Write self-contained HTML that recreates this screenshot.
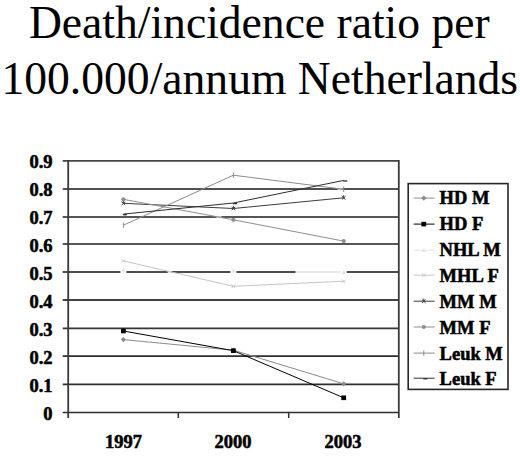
<!DOCTYPE html>
<html><head><meta charset="utf-8"><style>
html,body{margin:0;padding:0;background:#fff;width:520px;height:460px;overflow:hidden}
svg{display:block}
text{font-family:"Liberation Serif",serif}
.t{font-size:45.6px;stroke:#000;stroke-width:0.05px}
.b{font-size:18.5px;font-weight:bold;stroke:#000;stroke-width:0.55px}
</style></head><body>
<svg width="520" height="460" viewBox="0 0 520 460">
<rect width="520" height="460" fill="#fff"/>

<text class="t" x="259.3" y="38.1" text-anchor="middle">Death/incidence ratio per</text>
<text class="t" x="259.8" y="93.8" text-anchor="middle">100.000/annum Netherlands</text>
<line x1="62.7" y1="412.50" x2="399" y2="412.50" stroke="#2e2e2e" stroke-width="1.7"/>
<text class="b" x="52.5" y="420.18" text-anchor="end">0</text>
<line x1="62.7" y1="384.40" x2="399" y2="384.40" stroke="#2e2e2e" stroke-width="1.7"/>
<text class="b" x="52.5" y="392.20" text-anchor="end">0.1</text>
<line x1="62.7" y1="356.20" x2="399" y2="356.20" stroke="#2e2e2e" stroke-width="1.7"/>
<text class="b" x="52.5" y="364.23" text-anchor="end">0.2</text>
<line x1="62.7" y1="328.30" x2="399" y2="328.30" stroke="#363636" stroke-width="1.75"/>
<text class="b" x="52.5" y="336.25" text-anchor="end">0.3</text>
<line x1="62.7" y1="300.00" x2="399" y2="300.00" stroke="#414141" stroke-width="1.8"/>
<text class="b" x="52.5" y="308.27" text-anchor="end">0.4</text>
<line x1="62.7" y1="272.00" x2="399" y2="272.00" stroke="#4c4c4c" stroke-width="1.9"/>
<text class="b" x="52.5" y="280.30" text-anchor="end">0.5</text>
<line x1="62.7" y1="244.00" x2="399" y2="244.00" stroke="#565656" stroke-width="1.95"/>
<text class="b" x="52.5" y="252.32" text-anchor="end">0.6</text>
<line x1="62.7" y1="217.00" x2="399" y2="217.00" stroke="#565656" stroke-width="1.95"/>
<text class="b" x="52.5" y="224.34" text-anchor="end">0.7</text>
<line x1="62.7" y1="189.00" x2="399" y2="189.00" stroke="#515151" stroke-width="1.95"/>
<text class="b" x="52.5" y="196.36" text-anchor="end">0.8</text>
<line x1="62.7" y1="160.90" x2="399" y2="160.90" stroke="#464646" stroke-width="1.9"/>
<text class="b" x="52.5" y="168.39" text-anchor="end">0.9</text>
<line x1="68.2" y1="159.90" x2="68.2" y2="418" stroke="#3a3a3a" stroke-width="1.8"/>
<line x1="398.8" y1="159.90" x2="398.8" y2="418" stroke="#3a3a3a" stroke-width="1.8"/>
<line x1="178.3" y1="412.5" x2="178.3" y2="418" stroke="#2e2e2e" stroke-width="1.5"/>
<line x1="288.7" y1="412.5" x2="288.7" y2="418" stroke="#2e2e2e" stroke-width="1.5"/>
<text class="b" x="123.6" y="447.8" text-anchor="middle">1997</text>
<text class="b" x="232.9" y="447.8" text-anchor="middle">2000</text>
<text class="b" x="343.0" y="447.8" text-anchor="middle">2003</text>
<rect x="167.7" y="270.90" width="4.00" height="2.2" fill="#e2e2e2"/>
<rect x="216.3" y="215.90" width="5.10" height="2.2" fill="#d0d0d0"/>
<rect x="337.5" y="187.90" width="5.00" height="2.2" fill="#c8c8c8"/>
<line x1="295.5" y1="272.00" x2="344.5" y2="272.00" stroke="#e8e8e8" stroke-width="2.2"/>
<polyline points="123.4,339.60 233.4,350.20 343.7,383.80" fill="none" stroke="#8a8a8a" stroke-width="1.0"/>
<path d="M120.80,339.60 L123.40,337.00 L126.00,339.60 L123.40,342.20 Z" fill="#8a8a8a"/>
<path d="M230.80,350.20 L233.40,347.60 L236.00,350.20 L233.40,352.80 Z" fill="#8a8a8a"/>
<path d="M341.10,383.80 L343.70,381.20 L346.30,383.80 L343.70,386.40 Z" fill="#8a8a8a"/>
<polyline points="123.4,331.00 233.4,350.70 343.7,397.80" fill="none" stroke="#000000" stroke-width="1.0"/>
<rect x="121.00" y="328.70" width="4.8" height="4.6" fill="#000000"/>
<rect x="231.00" y="348.40" width="4.8" height="4.6" fill="#000000"/>
<rect x="341.30" y="395.50" width="4.8" height="4.6" fill="#000000"/>
<rect x="120.40" y="270.40" width="6" height="3.2" fill="#fff"/>
<path d="M121.20,271.40 L123.40,267.40 L125.60,271.40 Z" fill="#e4e4e4"/>
<rect x="230.40" y="270.40" width="6" height="3.2" fill="#fff"/>
<path d="M231.20,272.60 L233.40,268.60 L235.60,272.60 Z" fill="#e4e4e4"/>
<rect x="340.70" y="270.40" width="6" height="3.2" fill="#fff"/>
<path d="M341.50,274.20 L343.70,270.20 L345.90,274.20 Z" fill="#e4e4e4"/>
<polyline points="123.4,260.90 233.4,286.30 343.7,281.20" fill="none" stroke="#c4c4c4" stroke-width="1.0"/>
<path d="M121.60,259.10 L125.20,262.70 M125.20,259.10 L121.60,262.70" stroke="#c4c4c4" stroke-width="0.9"/>
<path d="M231.60,284.50 L235.20,288.10 M235.20,284.50 L231.60,288.10" stroke="#c4c4c4" stroke-width="0.9"/>
<path d="M341.90,279.40 L345.50,283.00 M345.50,279.40 L341.90,283.00" stroke="#c4c4c4" stroke-width="0.9"/>
<polyline points="123.4,203.30 233.4,208.50 343.7,197.80" fill="none" stroke="#3c3c3c" stroke-width="1.0"/>
<path d="M121.60,201.70 L125.20,205.10 M125.20,201.70 L121.60,205.10 M123.40,200.70 L123.40,203.80" stroke="#3c3c3c" stroke-width="1"/>
<path d="M231.60,206.90 L235.20,210.30 M235.20,206.90 L231.60,210.30 M233.40,205.90 L233.40,209.00" stroke="#3c3c3c" stroke-width="1"/>
<path d="M341.90,196.20 L345.50,199.60 M345.50,196.20 L341.90,199.60 M343.70,195.20 L343.70,198.30" stroke="#3c3c3c" stroke-width="1"/>
<polyline points="123.4,199.30 233.4,219.80 343.7,241.10" fill="none" stroke="#8e8e8e" stroke-width="1.0"/>
<circle cx="123.40" cy="199.30" r="2.1" fill="#8e8e8e"/>
<circle cx="233.40" cy="219.80" r="2.1" fill="#8e8e8e"/>
<circle cx="343.70" cy="241.10" r="2.1" fill="#8e8e8e"/>
<polyline points="123.4,225.20 233.4,175.20 343.7,189.30" fill="none" stroke="#8a8a8a" stroke-width="1.0"/>
<path d="M123.40,222.50 L123.40,227.90" stroke="#8a8a8a" stroke-width="1"/>
<path d="M233.40,172.50 L233.40,177.90" stroke="#8a8a8a" stroke-width="1"/>
<path d="M343.70,186.60 L343.70,192.00" stroke="#8a8a8a" stroke-width="1"/>
<polyline points="123.4,214.10 233.4,203.00 343.7,180.40" fill="none" stroke="#2e2e2e" stroke-width="1.0"/>
<path d="M122.90,214.70 L127.00,214.70" stroke="#2e2e2e" stroke-width="1.3"/>
<path d="M232.90,203.60 L237.00,203.60" stroke="#2e2e2e" stroke-width="1.3"/>
<path d="M343.20,181.00 L347.30,181.00" stroke="#2e2e2e" stroke-width="1.3"/>
<rect x="408.2" y="183.6" width="99.8" height="205.8" fill="#fff" stroke="#262626" stroke-width="1.6"/>
<line x1="413.7" y1="198.10" x2="434.6" y2="198.10" stroke="#8a8a8a" stroke-width="1.0"/>
<path d="M421.20,198.10 L423.80,195.50 L426.40,198.10 L423.80,200.70 Z" fill="#8a8a8a"/>
<text class="b" x="439.6" y="204.40" >HD M</text>
<line x1="413.7" y1="224.10" x2="434.6" y2="224.10" stroke="#000000" stroke-width="1.0"/>
<rect x="421.40" y="221.80" width="4.8" height="4.6" fill="#000000"/>
<text class="b" x="439.6" y="230.25" >HD F</text>
<line x1="413.7" y1="250.20" x2="434.6" y2="250.20" stroke="#e4e4e4" stroke-width="1.0"/>
<path d="M421.60,252.00 L423.80,248.00 L426.00,252.00 Z" fill="#e4e4e4"/>
<text class="b" x="439.6" y="256.10" >NHL M</text>
<line x1="413.7" y1="275.20" x2="434.6" y2="275.20" stroke="#c4c4c4" stroke-width="1.0"/>
<path d="M422.00,273.40 L425.60,277.00 M425.60,273.40 L422.00,277.00" stroke="#c4c4c4" stroke-width="0.9"/>
<text class="b" x="439.6" y="281.95" >MHL F</text>
<line x1="413.7" y1="301.20" x2="434.6" y2="301.20" stroke="#3c3c3c" stroke-width="1.0"/>
<path d="M422.00,299.60 L425.60,303.00 M425.60,299.60 L422.00,303.00 M423.80,298.60 L423.80,301.70" stroke="#3c3c3c" stroke-width="1"/>
<text class="b" x="439.6" y="307.80" >MM M</text>
<line x1="413.7" y1="327.00" x2="434.6" y2="327.00" stroke="#8e8e8e" stroke-width="1.0"/>
<circle cx="423.80" cy="327.00" r="2.1" fill="#8e8e8e"/>
<text class="b" x="439.6" y="333.65" >MM F</text>
<line x1="413.7" y1="353.10" x2="434.6" y2="353.10" stroke="#8a8a8a" stroke-width="1.0"/>
<path d="M423.80,350.40 L423.80,355.80" stroke="#8a8a8a" stroke-width="1"/>
<text class="b" x="439.6" y="359.50" >Leuk M</text>
<line x1="413.7" y1="378.20" x2="434.6" y2="378.20" stroke="#2e2e2e" stroke-width="1.0"/>
<path d="M423.30,378.80 L427.40,378.80" stroke="#2e2e2e" stroke-width="1.3"/>
<text class="b" x="439.6" y="385.35" >Leuk F</text>
</svg></body></html>
